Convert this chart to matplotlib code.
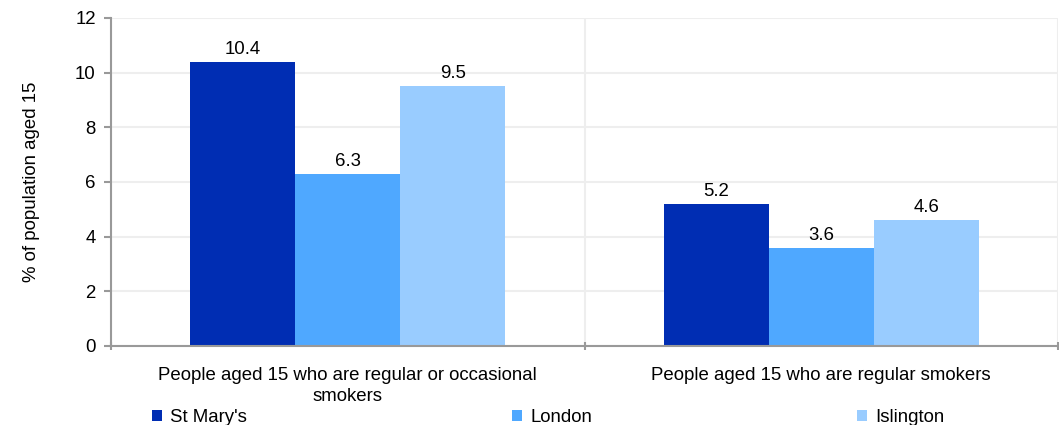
import matplotlib
matplotlib.use("Agg")
import matplotlib.pyplot as plt
import numpy as np

categories = ["People aged 15 who are regular or occasional\nsmokers",
              "People aged 15 who are regular smokers"]
series_names = ["St Mary's", "London", "Islington"]
st_marys = [10.4, 5.2]
london = [6.3, 3.6]
islington = [9.5, 4.6]
colors = ["#002db3", "#4fa8ff", "#99ccff"]
yticks = [0, 2, 4, 6, 8, 10, 12]

plt.rcParams['font.family'] = ['Liberation Sans', 'DejaVu Sans']
FS = 13.4

fig = plt.figure(figsize=(10.59, 4.25), dpi=100)
ax = fig.add_axes([111/1059, 1-346/425, (1058-111)/1059, (346-18)/425])

n = len(categories)
centers = np.arange(n) + 0.5
bw = 0.222
for i, (vals, name, c) in enumerate(zip([st_marys, london, islington], series_names, colors)):
    xs = centers + (i - 1) * bw
    ax.bar(xs, vals, width=bw, color=c, label=name, zorder=3)
    for x, v in zip(xs, vals):
        ax.text(x, v + 0.15, f"{v:.1f}", ha="center", va="bottom", fontsize=FS, zorder=4)

ax.set_xlim(0, n)
ax.set_ylim(0, 12)
ax.set_yticks(yticks)
ax.set_yticklabels([str(t) for t in yticks], fontsize=FS)
ax.set_xticks(np.arange(n + 1))
ax.set_xticklabels([])
ax.set_xticks(centers, minor=True)
ax.set_xticklabels(categories, minor=True, fontsize=FS, linespacing=1.3)
ax.tick_params(axis="x", which="minor", length=0, pad=15)
ax.tick_params(axis="x", which="major", length=6, color="#999999", width=1.5, direction="inout")
ax.tick_params(axis="y", length=5, color="#999999", width=1.5, pad=6)

ax.grid(axis="y", color="#eeeeee", linewidth=1.5, zorder=0)
ax.grid(axis="x", which="major", color="#eeeeee", linewidth=1.5, zorder=0)
for s in ["top", "right"]:
    ax.spines[s].set_visible(False)
for s in ["left", "bottom"]:
    ax.spines[s].set_color("#999999")
    ax.spines[s].set_linewidth(1.5)
    ax.spines[s].set_zorder(5)

ax.set_ylabel("% of population aged 15", fontsize=FS)
ax.yaxis.set_label_coords(-(111-40)/947, 0.5)

fig.legend(loc="center left", bbox_to_anchor=(152/1059, 1-418/425), ncol=3, frameon=False,
           fontsize=FS, handlelength=0.54, handleheight=0.54, handletextpad=0.43,
           columnspacing=14.24, borderpad=0, borderaxespad=0)

fig.savefig("out.png", dpi=100)
